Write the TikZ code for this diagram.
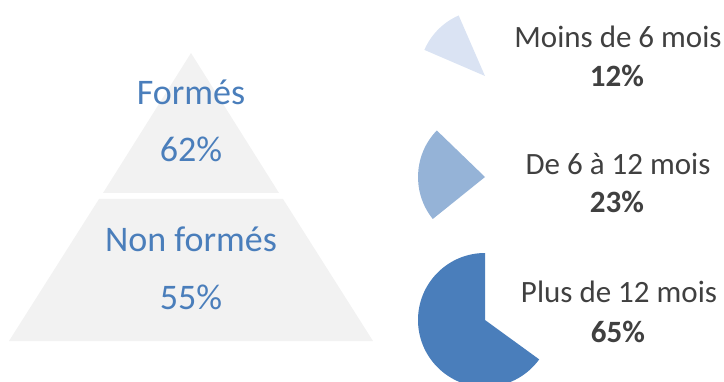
\documentclass[tikz,border=0pt]{standalone}
\usepackage{fontspec}
\setmainfont{Carlito}
\definecolor{pyrfill}{HTML}{F2F2F2}
\definecolor{pyrtext}{HTML}{4A7EBB}
\definecolor{lbltext}{HTML}{404040}
\definecolor{sliceA}{HTML}{DAE3F3}
\definecolor{sliceB}{HTML}{95B3D7}
\definecolor{sliceC}{HTML}{4A7EBB}
\begin{document}
\begin{tikzpicture}[x=1pt,y=1pt,
  pyrlbl/.style={anchor=base,text=pyrtext,font=\fontsize{36}{40}\selectfont,inner sep=0pt},
  catlbl/.style={anchor=base,text=lbltext,font=\fontsize{31}{36}\selectfont,inner sep=0pt},
  pctlbl/.style={anchor=base,text=lbltext,font=\fontsize{31}{36}\selectfont\bfseries,inner sep=0pt}]
\useasboundingbox (0,0) rectangle (724,381);
% pyramid (y flipped: 381 - image y)
\fill[pyrfill] (191,328) -- (279,188) -- (103,188) -- cycle;
\fill[pyrfill] (99,182) -- (283,182) -- (373,40) -- (9,40) -- cycle;
\node[pyrlbl] (formes) at (191,276) {Formés};
\node[pyrlbl] (p62) at (191,219) {62\%};
\node[pyrlbl] (nonformes) at (191,129) {Non formés};
\node[pyrlbl] (p55) at (191,72) {55\%};
% pie slices
\fill[sliceA] (485,305) -- ++(113.5:66) arc[start angle=113.5,end angle=156.7,radius=66] -- cycle;
\fill[sliceB] (485,204) -- ++(136:67) arc[start angle=136,end angle=218.8,radius=67] -- cycle;
\fill[sliceC] (485,61) -- ++(90:67) arc[start angle=90,end angle=324,radius=67] -- cycle;
% labels
\node[catlbl] (moins) at (618,333) {Moins de 6 mois};
\node[pctlbl] (p12) at (617,294) {12\%};
\node[catlbl] (de6) at (618,206) {De 6 à 12 mois};
\node[pctlbl] (p23) at (617,168) {23\%};
\node[catlbl] (plus) at (619,78) {Plus de 12 mois};
\node[pctlbl] (p65) at (618,39) {65\%};
\end{tikzpicture}
\end{document}
